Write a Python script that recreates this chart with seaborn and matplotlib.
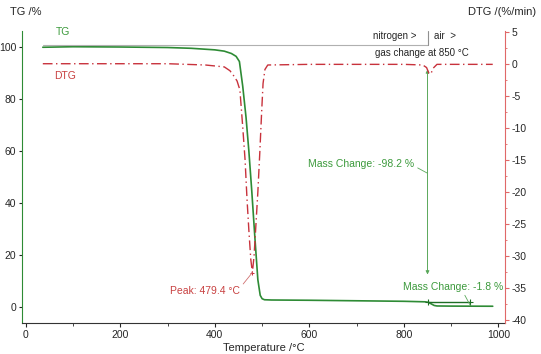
import numpy as np
import pandas as pd
import seaborn as sns
import matplotlib
matplotlib.use("Agg")
import matplotlib.pyplot as plt

# TG curve (temperature in °C, mass in %)
tg_temp = [36, 100, 200, 300, 350, 400, 420, 435, 445, 452, 459, 466, 472, 478,
           485, 491, 496, 500, 505, 520, 600, 700, 800, 845, 852, 858, 864, 870, 900, 988]
tg_mass = [100.0, 100.2, 100.1, 99.9, 99.6, 99.0, 98.5, 97.6, 96.5, 94.5, 85.0, 73.0, 60.0, 45.0,
           26.0, 10.5, 4.5, 3.2, 2.8, 2.7, 2.6, 2.4, 2.2, 2.0, 1.8, 1.2, 0.6, 0.4, 0.35, 0.3]

# DTG curve (%/min)
dtg_temp = [36, 300, 380, 420, 432, 440, 447, 453, 459, 464, 468, 472, 476, 479.4,
            483, 487, 491, 495, 499, 502, 506, 512, 600, 800, 840, 848, 853, 857, 862, 870, 988]
dtg_rate = [0.1, 0.1, -0.1, -0.4, -1.0, -1.8, -2.6, -4.0, -9.8, -15.0, -21.0, -26.0, -30.5, -32.6,
            -30.0, -25.0, -20.0, -14.0, -7.5, -3.0, -0.8, -0.1, 0.0, 0.0, -0.1, -0.5, -1.4, -1.5, -0.6, 0.0, 0.0]

# annotations
peak_temp = 479.4
peak_rate = -32.6
gas_change_temp = 850
step_end_temp = 940
step_mass = 1.9

df_tg = pd.DataFrame({"Temperature": tg_temp, "TG": tg_mass})
df_dtg = pd.DataFrame({"Temperature": dtg_temp, "DTG": dtg_rate})

sns.set_style("white")
plt.rcParams["font.family"] = ["Liberation Sans", "DejaVu Sans"]
plt.rcParams["font.size"] = 7.5
plt.rcParams["axes.unicode_minus"] = False

tg_color = "#2e8b35"
dtg_color = "#c8323c"
txt_green = "#3c9a3c"
txt_red = "#c84040"

fig = plt.figure(figsize=(5.41, 3.54), dpi=100)
ax = fig.add_axes([0.0407, 0.0876, 0.8928, 0.8244])
ax2 = ax.twinx()

sns.lineplot(data=df_tg, x="Temperature", y="TG", ax=ax, color=tg_color, linewidth=1.2)
sns.lineplot(data=df_dtg, x="Temperature", y="DTG", ax=ax2, color=dtg_color,
             linewidth=1.0, linestyle=(0, (7, 2.5, 1, 2.5)))

ax.set_xlim(-8, 1014)
ax.set_ylim(-6.15, 106.2)
ax2.set_ylim(-40.5, 5.2)

ax.set_xticks([0, 200, 400, 600, 800, 1000])
ax.set_xticks([100, 300, 500, 700, 900], minor=True)
ax.set_yticks([0, 20, 40, 60, 80, 100])
ax2.set_yticks(np.arange(-40, 6, 5))
ax2.set_yticks(np.arange(-37.5, 5, 5), minor=True)

ax.set_xlabel("Temperature /°C", fontsize=8, labelpad=2)
ax.set_ylabel("")
ax2.set_ylabel("")

for a in (ax, ax2):
    a.spines["top"].set_visible(False)
ax.spines["right"].set_visible(False)
ax.spines["left"].set_color(tg_color)
ax.spines["bottom"].set_color("#333333")
ax2.spines["left"].set_visible(False)
ax2.spines["bottom"].set_visible(False)
ax2.spines["right"].set_color("#e06868")

ax.tick_params(axis="x", which="major", direction="out", length=3, pad=2, bottom=True)
ax.tick_params(axis="x", which="minor", direction="out", length=2, bottom=True)
ax.tick_params(axis="y", which="major", direction="out", length=2, pad=2, left=True)
ax2.tick_params(axis="y", which="major", direction="out", length=3, pad=2, right=True, color="#e06868")
ax2.tick_params(axis="y", which="minor", direction="out", length=1.5, right=True, color="#e06868")

# axis titles at the top corners
fig.text(10 / 541, 1 - 12 / 354, "TG /%", fontsize=8, va="center", ha="left")
fig.text(536 / 541, 1 - 12 / 354, "DTG /(%/min)", fontsize=8, va="center", ha="right")

# curve labels
ax.text(78, 106.0, "TG", color=txt_green, ha="center", va="center", clip_on=False)
ax2.text(83, -1.8, "DTG", color=txt_red, ha="center", va="center")

# gas change marker
ax.plot([36, gas_change_temp], [100.7, 100.7], color="#b0b0b0", linewidth=0.8)
ax.plot([gas_change_temp, gas_change_temp], [100.7, 106.2], color="#909090", linewidth=0.8, clip_on=False)
ax.text(781, 104.2, "nitrogen >", ha="center", va="center", fontsize=7)
ax.text(887, 104.2, "air  >", ha="center", va="center", fontsize=7)
ax.text(838, 97.7, "gas change at 850 °C", ha="center", va="center", fontsize=7)

# mass change -98.2 %
ax.annotate("", xy=(gas_change_temp, 12.5), xytext=(gas_change_temp, 91.5),
            arrowprops=dict(arrowstyle="<|-|>", color="#5aa85a", lw=0.7,
                            mutation_scale=5, shrinkA=0, shrinkB=0))
ax.annotate("Mass Change: -98.2 %", xy=(gas_change_temp, 51.5), xytext=(710, 55),
            color=txt_green, ha="center", va="center",
            arrowprops=dict(arrowstyle="-", color="#5aa85a", lw=0.6, shrinkA=0, shrinkB=0,
                            relpos=(1.0, 0.3)))

# mass change -1.8 %
ax.plot([gas_change_temp, step_end_temp], [step_mass, step_mass], color="#1e6e25", linewidth=1.0)
ax.plot([gas_change_temp, step_end_temp], [step_mass, step_mass], linestyle="none",
        marker="+", markersize=4, color="#1e6e25", markeredgewidth=0.8)
ax.annotate("Mass Change: -1.8 %", xy=(step_end_temp, 0.8), xytext=(904, 7.7),
            color=txt_green, ha="center", va="center",
            arrowprops=dict(arrowstyle="-", color="#5aa85a", lw=0.6, shrinkA=0, shrinkB=0,
                            relpos=(0.6, 0.0)))

# DTG peak
ax2.annotate("Peak: 479.4 °C", xy=(peak_temp, peak_rate), xytext=(379, -35.5),
             color=txt_red, ha="center", va="center",
             arrowprops=dict(arrowstyle="-", color="#d07070", lw=0.6, shrinkA=0, shrinkB=0,
                             relpos=(1.0, 0.8)))
ax2.plot([peak_temp], [peak_rate], marker="+", markersize=3, color=dtg_color, markeredgewidth=0.7)

plt.savefig("out.png", dpi=100)
